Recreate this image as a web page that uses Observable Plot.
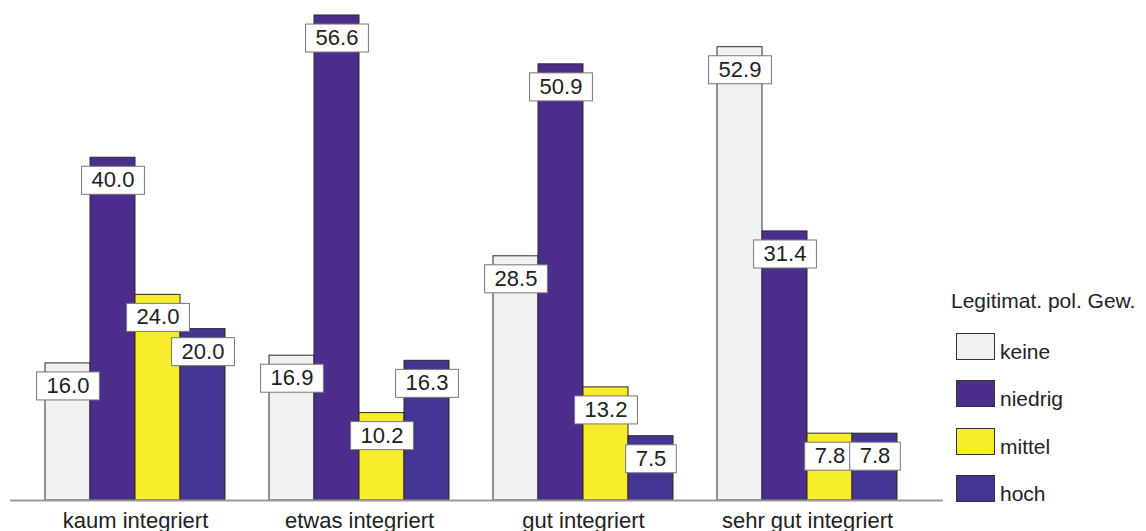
<!DOCTYPE html>
<html>
<head>
<meta charset="utf-8">
<script src="https://cdn.jsdelivr.net/npm/d3@7"></script>
<script src="https://cdn.jsdelivr.net/npm/@observablehq/plot@0.6"></script>
<style>
  html, body { margin: 0; padding: 0; background: #fff; }
  #wrap { position: relative; width: 1146px; height: 531px; font-family: "Liberation Sans", Arial, sans-serif; color: #222; }
  #chart { position: absolute; left: 0; top: 0; }
  .legend { position: absolute; left: 951px; top: 0; font-size: 21px; }
  .legend .title { position: absolute; left: 0; top: 288px; white-space: nowrap; line-height: 26px; }
  .legend .row { position: absolute; left: 5px; white-space: nowrap; }
  .legend .sw { position: absolute; left: 0; top: 0; width: 37px; height: 25px; border: 1px solid #333; }
  .legend .lab { position: absolute; left: 44px; top: 6px; line-height: 26px; }
</style>
</head>
<body>
<div id="wrap">
  <div id="chart"></div>
  <div class="legend" id="legend"></div>
</div>
<script>
const groups = ["kaum integriert", "etwas integriert", "gut integriert", "sehr gut integriert"];
const series = ["keine", "niedrig", "mittel", "hoch"];
const keine   = [16.0, 16.9, 28.5, 52.9];
const niedrig = [40.0, 56.6, 50.9, 31.4];
const mittel  = [24.0, 10.2, 13.2, 7.8];
const hoch    = [20.0, 16.3, 7.5, 7.8];
const legendTitle = "Legitimat. pol. Gew.";
const colors = ["#f0f1f3", "#4b2e8c", "#f7ec2a", "#433591"];

const values = [keine, niedrig, mittel, hoch];
const rows = [];
series.forEach((s, i) => groups.forEach((g, j) => rows.push({group: g, series: s, si: i, value: values[i][j]})));

const W = 1146, H = 531;
const mL = 10, mR = 203;
const pInner = 0.1976, pOuter = 0.1783;
const step = (W - mL - mR) / (groups.length - pInner + 2 * pOuter);
const band = step * (1 - pInner);
const sub = band / series.length;

const marks = [];
series.forEach((s, i) => {
  marks.push(Plot.barY(rows.filter(d => d.si === i), {
    x: "group", y: "value", fill: colors[i], stroke: "#2a2a2a", strokeWidth: 1,
    insetLeft: i * sub, insetRight: (series.length - 1 - i) * sub
  }));
});
marks.push(Plot.ruleY([0], {stroke: "#999", strokeWidth: 2}));
series.forEach((s, i) => {
  marks.push(Plot.text(rows.filter(d => d.si === i), {
    x: "group", y: "value", text: d => d.value.toFixed(1),
    dx: (i - (series.length - 1) / 2) * sub, dy: 22.5,
    fontSize: 22, fill: "#222"
  }));
});
marks.push(Plot.axisX({tickSize: 0, tickPadding: 12, fontSize: 22, label: null, fill: "#222"}));

const chart = Plot.plot({
  width: W, height: H,
  marginLeft: mL, marginRight: mR, marginTop: 0, marginBottom: 31,
  style: {fontFamily: "Liberation Sans, Arial, sans-serif", background: "#fff", overflow: "visible"},
  x: {domain: groups, paddingInner: pInner, paddingOuter: pOuter, align: 0.425, axis: null},
  y: {domain: [0, 58.35], axis: null},
  marks
});
document.getElementById("chart").appendChild(chart);

// white boxes behind value labels, sized from each label's own text
const labelSet = new Set(rows.map(d => d.value.toFixed(1)));
Array.from(chart.querySelectorAll("text")).forEach(t => {
  if (!labelSet.has(t.textContent.trim())) return;
  const b = t.getBBox();
  const tr = t.getAttribute("transform");
  const cy = b.y + b.height / 2 + 0.5;
  const r = document.createElementNS("http://www.w3.org/2000/svg", "rect");
  r.setAttribute("x", b.x - 10);
  r.setAttribute("y", cy - 14);
  r.setAttribute("width", b.width + 20);
  r.setAttribute("height", 28);
  r.setAttribute("fill", "#fff");
  r.setAttribute("stroke", "#777");
  r.setAttribute("stroke-width", 1);
  if (tr) r.setAttribute("transform", tr);
  t.parentNode.insertBefore(r, t);
});

// legend
const leg = d3.select("#legend");
leg.append("div").attr("class", "title").text(legendTitle);
series.forEach((s, i) => {
  const row = leg.append("div").attr("class", "row").style("top", (333 + i * 47.3) + "px");
  row.append("div").attr("class", "sw").style("background", colors[i]);
  row.append("div").attr("class", "lab").text(s);
});
</script>
</body>
</html>
